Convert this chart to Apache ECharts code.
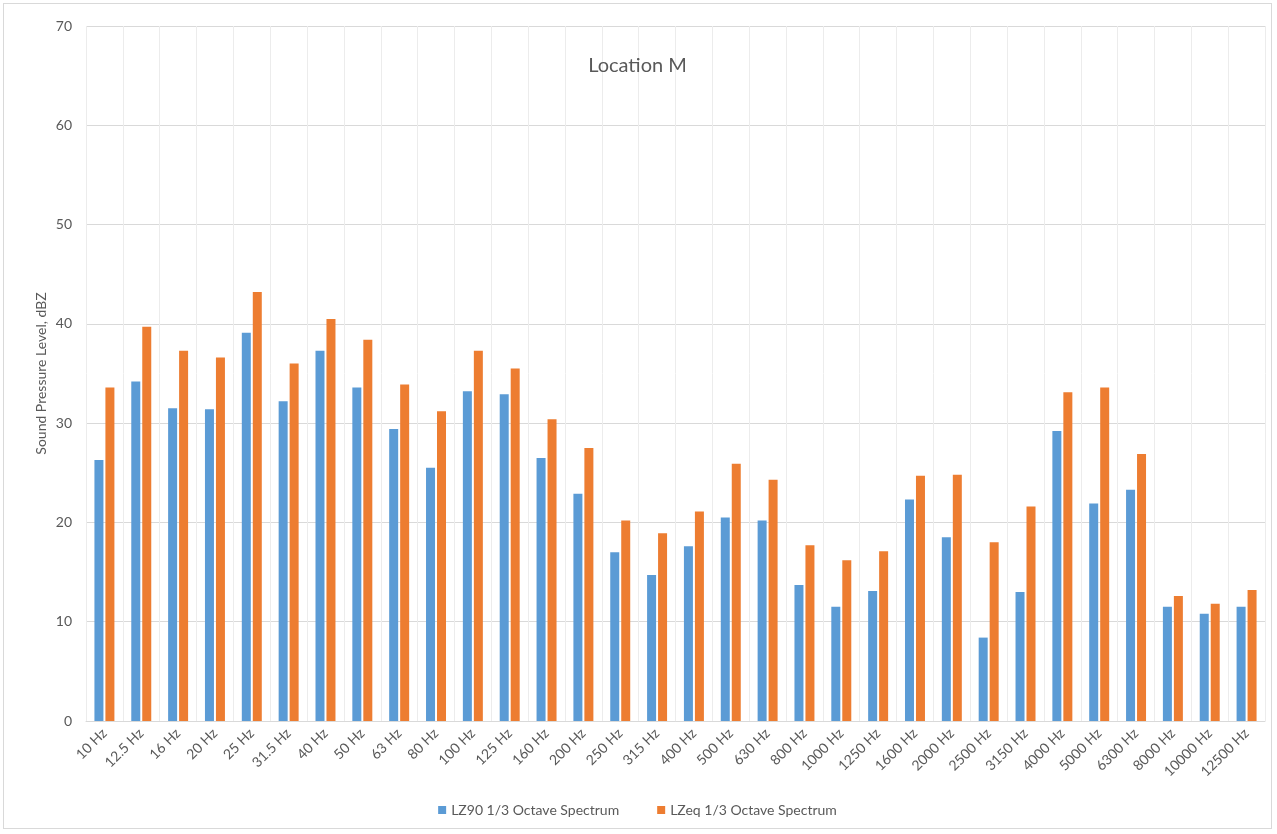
<!DOCTYPE html>
<html>
<head>
<meta charset="utf-8">
<title>Location M</title>
<script src="https://cdn.jsdelivr.net/npm/echarts@6/dist/echarts.min.js"></script>
<style>
	html, body { margin: 0; padding: 0; background: #fff; }
	#main { position: absolute; left: 3px; top: 3px; width: 1269px; height: 826px; border: 1px solid #d9d9d9; box-sizing: border-box; }
</style>
<script>
	// 1/3 octave bands
	var bands = ['10 Hz', '12.5 Hz', '16 Hz', '20 Hz', '25 Hz', '31.5 Hz', '40 Hz', '50 Hz', '63 Hz', '80 Hz',
		'100 Hz', '125 Hz', '160 Hz', '200 Hz', '250 Hz', '315 Hz', '400 Hz', '500 Hz', '630 Hz', '800 Hz',
		'1000 Hz', '1250 Hz', '1600 Hz', '2000 Hz', '2500 Hz', '3150 Hz', '4000 Hz', '5000 Hz', '6300 Hz', '8000 Hz',
		'10000 Hz', '12500 Hz'];
	var lz90 = [26.3, 34.2, 31.5, 31.4, 39.1, 32.2, 37.3, 33.6, 29.4, 25.5,
		33.2, 32.9, 26.5, 22.9, 17.0, 14.7, 17.6, 20.5, 20.2, 13.7,
		11.5, 13.1, 22.3, 18.5, 8.4, 13.0, 29.2, 21.9, 23.3, 11.5,
		10.8, 11.5];
	var lzeq = [33.6, 39.7, 37.3, 36.6, 43.2, 36.0, 40.5, 38.4, 33.9, 31.2,
		37.3, 35.5, 30.4, 27.5, 20.2, 18.9, 21.1, 25.9, 24.3, 17.7,
		16.2, 17.1, 24.7, 24.8, 18.0, 21.6, 33.1, 33.6, 26.9, 12.6,
		11.8, 13.2];
	var seriesNames = ['LZ90 1/3 Octave Spectrum', 'LZeq 1/3 Octave Spectrum'];

	window.onload = function() {
		var myChart = echarts.init(document.getElementById('main'));
		var font = 'Lato, "Open Sans", sans-serif';
		var option = {
			animation: false,
			color: ['#5b9bd5', '#ed7d31'],
			title: {
				text: 'Location M',
				left: 'center',
				top: 47,
				textStyle: { color: '#595959', fontSize: 20, fontWeight: 'normal', fontFamily: font }
			},
			legend: {
				data: seriesNames,
				bottom: 6,
				left: 'center',
				itemWidth: 8,
				itemHeight: 8,
				itemGap: 38,
				icon: 'rect',
				textStyle: { color: '#595959', fontSize: 14, fontFamily: font }
			},
			grid: { left: 82, right: 6, top: 22, bottom: 107 },
			xAxis: {
				type: 'category',
				data: bands,
				axisLine: { lineStyle: { color: '#d9d9d9' } },
				axisTick: { show: false },
				splitLine: { show: true, lineStyle: { color: '#ececec' } },
				axisLabel: { rotate: 45, color: '#595959', fontSize: 14, fontFamily: font, margin: 10, interval: 0 }
			},
			yAxis: {
				type: 'value',
				min: 0,
				max: 70,
				interval: 10,
				name: 'Sound Pressure Level, dBZ',
				nameLocation: 'middle',
				nameGap: 38,
				nameMoveOverlap: false,
				nameTextStyle: { color: '#595959', fontSize: 14, fontFamily: font },
				axisLine: { show: false },
				axisTick: { show: false },
				splitLine: { lineStyle: { color: '#d9d9d9' } },
				axisLabel: { color: '#595959', fontSize: 14, fontFamily: font, margin: 14 }
			},
			series: [
				{ name: seriesNames[0], type: 'bar', data: lz90, barWidth: 9, barGap: '22%' },
				{ name: seriesNames[1], type: 'bar', data: lzeq, barWidth: 9 }
			]
		};
		myChart.setOption(option);
	};
</script>
</head>
<body>
	<div id="main"></div>
</body>
</html>
